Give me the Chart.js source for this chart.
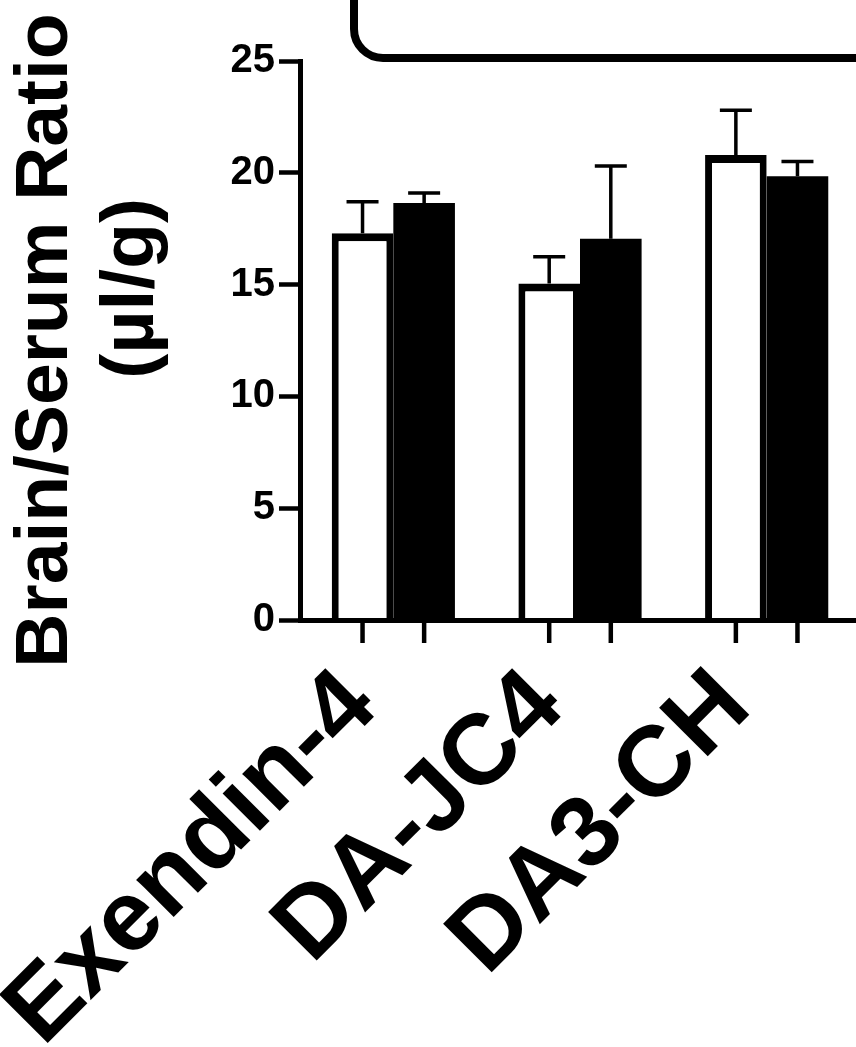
<!DOCTYPE html>
<html>
<head>
<meta charset="utf-8">
<script src="https://cdn.jsdelivr.net/npm/chart.js@4.4.1/dist/chart.umd.min.js"></script>
<style>
  html, body { margin: 0; padding: 0; background: #fff; overflow: hidden; }
  #wrap { width: 860px; height: 1047px; }
</style>
</head>
<body>
<div id="wrap"><canvas id="myChart"></canvas></div>
<script>
const labels = ['Exendin-4', 'DA-JC4', 'DA3-CH'];
const whiteMeans = [17.3, 15.05, 20.8];
const whiteErr = [1.4, 1.2, 2.0];
const blackMeans = [18.65, 17.05, 19.85];
const blackErr = [0.45, 3.25, 0.65];
const yTicks = [0, 5, 10, 15, 20, 25];
const yTitle = ['Brain/Serum Ratio', '     (µl/g)'];

const FONT = "'Liberation Sans', Arial, sans-serif";

// error bars (upper half only), from the top of each bar
const errorBars = {
  id: 'errorBars',
  afterDatasetsDraw(chart) {
    const ctx = chart.ctx;
    const y = chart.scales.y;
    const errs = [whiteErr, blackErr];
    ctx.save();
    ctx.strokeStyle = '#000';
    ctx.lineWidth = 3.5;
    chart.data.datasets.forEach((ds, i) => {
      chart.getDatasetMeta(i).data.forEach((bar, j) => {
        const top = y.getPixelForValue(ds.data[j] + errs[i][j]);
        ctx.beginPath();
        ctx.moveTo(bar.x, bar.y);
        ctx.lineTo(bar.x, top);
        ctx.moveTo(bar.x - 16, top);
        ctx.lineTo(bar.x + 16, top);
        ctx.stroke();
      });
    });
    ctx.restore();
  }
};

// x tick marks under every bar
const barTicks = {
  id: 'barTicks',
  afterDatasetsDraw(chart) {
    const ctx = chart.ctx;
    const y0 = chart.scales.y.getPixelForValue(0);
    ctx.save();
    ctx.strokeStyle = '#000';
    ctx.lineWidth = 4.5;
    chart.data.datasets.forEach((ds, i) => {
      chart.getDatasetMeta(i).data.forEach(bar => {
        ctx.beginPath();
        ctx.moveTo(bar.x, y0);
        ctx.lineTo(bar.x, y0 + 23);
        ctx.stroke();
      });
    });
    ctx.restore();
  }
};

// corner of the legend frame, cut off at the top of the picture
const legendFrame = {
  id: 'legendFrame',
  afterDraw(chart) {
    const ctx = chart.ctx;
    const a = chart.chartArea;
    const x = a.left + 54, y = a.top - 3;
    ctx.save();
    ctx.strokeStyle = '#000';
    ctx.lineWidth = 8;
    ctx.beginPath();
    ctx.moveTo(x, -10);
    ctx.arcTo(x, y, x + 60, y, 29);
    ctx.lineTo(chart.width + 10, y);
    ctx.stroke();
    ctx.restore();
  }
};

const data = {
  labels: labels,
  datasets: [{
    data: whiteMeans,
    backgroundColor: '#fff',
    borderColor: '#000',
    borderWidth: {top: 8, left: 7, right: 7, bottom: 0}
  }, {
    data: blackMeans,
    backgroundColor: '#000',
    borderWidth: 0
  }]
};

const config = {
  type: 'bar',
  data: data,
  plugins: [errorBars, barTicks, legendFrame],
  options: {
    responsive: true,
    maintainAspectRatio: false,
    animation: false,
    layout: { padding: { top: 61, left: 0, right: 0, bottom: 0 } },
    datasets: { bar: { barPercentage: 1.0, categoryPercentage: 0.66 } },
    plugins: { legend: { display: false }, tooltip: { enabled: false } },
    scales: {
      x: {
        grid: { display: false, drawTicks: false },
        border: { display: true, width: 5, color: '#000', z: 1 },
        ticks: {
          color: '#000',
          font: { family: FONT, weight: 'bold', size: 100 },
          minRotation: 45,
          maxRotation: 45,
          autoSkip: false,
          padding: 28,
          labelOffset: -32
        },
        afterFit(scale) {
          scale.height = 427;
          scale.paddingLeft = 0;
          scale.paddingRight = 0;
        }
      },
      y: {
        min: 0,
        max: 25,
        afterBuildTicks(scale) {
          scale.ticks = yTicks.map(v => ({ value: v }));
        },
        grid: { drawOnChartArea: false, drawTicks: true, tickLength: 21, tickWidth: 4.5, tickColor: '#000' },
        border: { display: true, width: 5, color: '#000' },
        ticks: {
          color: '#000',
          font: { family: FONT, weight: 'bold', size: 40 },
          padding: 4
        },
        title: {
          display: true,
          text: yTitle,
          color: '#000',
          font: { family: FONT, weight: 'bold', size: 75, lineHeight: 1.15 },
          padding: { top: 3, bottom: 0 }
        },
        afterFit(scale) {
          scale.width = 300;
        }
      }
    }
  }
};

const myChart = new Chart(document.getElementById('myChart').getContext('2d'), config);
</script>
</body>
</html>
